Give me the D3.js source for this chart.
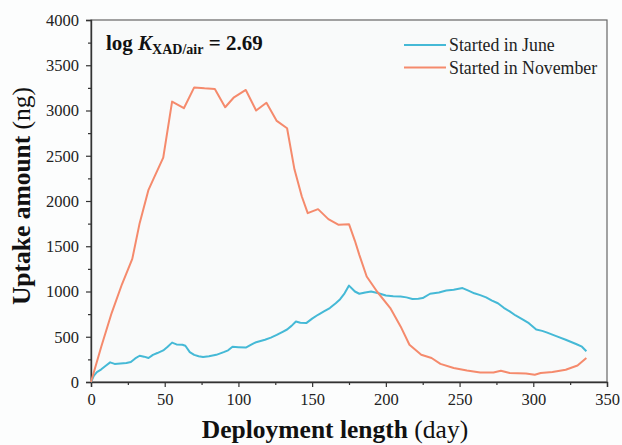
<!DOCTYPE html>
<html><head><meta charset="utf-8">
<script src="https://cdn.jsdelivr.net/npm/d3@7"></script>
<style>html,body{margin:0;padding:0;background:#fff}svg{display:block}</style>
</head><body>
<script>
const juneDays = [0,2,4,7,10,13,16,20,24,27,30,33,36,39,42,45,49,52,55,58,62,64,67,70,73,76,80,85,90,93,96,100,105,109,112,118,122,126,130,133,136,139,142,146,150,154,158,162,166,169,172,175,179,182,186,190,195,200,205,210,214,218,222,225,230,236,241,246,252,256,260,264,268,272,276,280,284,288,293,297,302,306,309,316,322,329,333,336];
const juneValues = [0,70,110,140,180,217,200,205,210,220,260,290,280,265,300,320,349,390,435,415,412,400,330,300,285,276,285,300,330,350,390,385,380,415,440,467,490,520,555,580,620,669,655,651,700,743,780,817,870,915,980,1065,1000,975,990,1000,980,955,948,945,935,918,920,927,975,990,1010,1020,1038,1010,980,960,935,900,870,820,780,735,690,650,580,565,548,504,467,420,390,340];
const novDays = [0,7,14,21,28,33,39,42,49,55,63,70,77,84,91,97,105,112,119,126,133,138,143,147,154,161,168,175,179,182,187,194,203,210,216,224,231,237,246,255,264,273,278,284,295,301,305,313,322,330,336];
const novValues = [0,392,762,1080,1360,1755,2123,2230,2480,3098,3025,3255,3245,3238,3036,3146,3227,3000,3085,2885,2804,2350,2050,1866,1910,1800,1737,1744,1560,1405,1166,1000,817,614,412,301,265,200,155,128,106,106,125,99,95,81,99,110,136,183,265];
const seriesNames = ["Started in June", "Started in November"];
const seriesColors = ["#45b9d6", "#f58a6c"];
const xTicks = [0,50,100,150,200,250,300,350];
const yTicks = [0,500,1000,1500,2000,2500,3000,3500,4000];

const W = 622, H = 445;
const m = {left: 91, right: 15, top: 20, bottom: 63};
const pw = W - m.left - m.right, ph = H - m.top - m.bottom;
const svg = d3.select("body").append("svg").attr("width", W).attr("height", H)
  .style("font-family", "'Liberation Serif','Times New Roman',serif");
svg.append("rect").attr("width", W).attr("height", H).attr("fill", "#fcfdfd");

const x = d3.scaleLinear().domain([0, 350]).range([m.left, m.left + pw]);
const y = d3.scaleLinear().domain([0, 4000]).range([m.top + ph, m.top]);

// frame
svg.append("rect").attr("x", m.left).attr("y", m.top).attr("width", pw).attr("height", ph)
  .attr("fill", "#f9fafa").attr("stroke", "#666").attr("stroke-width", 1.2);

// ticks
const xMinor = d3.range(25, 350, 50);
const yMinor = d3.range(250, 4000, 500);
svg.append("g").attr("transform", `translate(0,${m.top + ph})`)
  .call(d3.axisBottom(x).tickValues(xTicks).tickSize(5).tickPadding(6).tickFormat(d3.format("d")));
svg.append("g").attr("transform", `translate(0,${m.top + ph})`)
  .call(d3.axisBottom(x).tickValues(xMinor).tickSize(3).tickFormat(""))
  .call(g => g.select(".domain").remove());
svg.append("g").attr("transform", `translate(${m.left},0)`)
  .call(d3.axisLeft(y).tickValues(yTicks).tickSize(5).tickPadding(7).tickFormat(d3.format("d")));
svg.append("g").attr("transform", `translate(${m.left},0)`)
  .call(d3.axisLeft(y).tickValues(yMinor).tickSize(3).tickFormat(""))
  .call(g => g.select(".domain").remove());
svg.selectAll("g").attr("font-family", null);
svg.selectAll(".tick line").attr("stroke", "#333").attr("stroke-width", 1.2);
svg.selectAll(".domain").attr("stroke", "#333").attr("stroke-width", 1.4);
svg.selectAll(".tick text").style("font-family", "'Liberation Serif',serif").attr("font-size", 16.5).attr("fill", "#222");

// lines
const line = d3.line().x(d => x(d[0])).y(d => y(d[1]));
const juneData = juneDays.map((d, i) => [d, juneValues[i]]);
const novData = novDays.map((d, i) => [d, novValues[i]]);
svg.append("path").datum(juneData).attr("d", line).attr("fill", "none")
  .attr("stroke", seriesColors[0]).attr("stroke-width", 2).attr("stroke-linejoin", "round");
svg.append("path").datum(novData).attr("d", line).attr("fill", "none")
  .attr("stroke", seriesColors[1]).attr("stroke-width", 2).attr("stroke-linejoin", "round");

// legend
seriesNames.forEach((n, i) => {
  const ly = 45 + i * 22.5;
  svg.append("line").attr("x1", 404).attr("x2", 446).attr("y1", ly).attr("y2", ly)
    .attr("stroke", seriesColors[i]).attr("stroke-width", 2);
  svg.append("text").attr("x", 449).attr("y", ly + 6).attr("font-size", 17.8).attr("fill", "#222").text(n);
});

// annotation
const ann = svg.append("text").attr("x", 106).attr("y", 50).attr("font-size", 21)
  .attr("font-weight", "bold").attr("fill", "#111");
ann.append("tspan").text("log ");
ann.append("tspan").attr("font-style", "italic").text("K");
ann.append("tspan").attr("font-size", 14).attr("dy", 4).text("XAD/air");
ann.append("tspan").attr("dy", -4).text(" = 2.69");

// axis titles
const xt = svg.append("text").attr("x", 335).attr("y", 438).attr("text-anchor", "middle")
  .attr("font-size", 25.5).attr("fill", "#111");
xt.append("tspan").attr("font-weight", "bold").text("Deployment length");
xt.append("tspan").text(" (day)");
const yt = svg.append("text").attr("transform", `translate(30,196) rotate(-90)`).attr("text-anchor", "middle")
  .attr("font-size", 25.5).attr("fill", "#111");
yt.append("tspan").attr("font-weight", "bold").text("Uptake amount");
yt.append("tspan").text(" (ng)");
</script>
</body></html>
